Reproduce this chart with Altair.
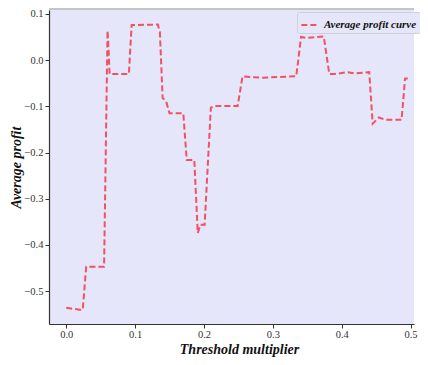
import altair as alt
import pandas as pd

# Data
threshold = [0.000, 0.019, 0.024, 0.029, 0.055, 0.060, 0.061, 0.063, 0.091, 0.095,
             0.133, 0.136, 0.140, 0.145, 0.150, 0.170, 0.175, 0.186, 0.191, 0.195,
             0.201, 0.210, 0.216, 0.249, 0.256, 0.282, 0.334, 0.341, 0.348, 0.374,
             0.382, 0.390, 0.409, 0.419, 0.440, 0.445, 0.454, 0.463, 0.487, 0.492,
             0.496]
avg_profit = [-0.536, -0.540, -0.540, -0.447, -0.447, 0.064, 0.040, -0.030, -0.030, 0.076,
              0.077, 0.061, -0.082, -0.089, -0.115, -0.115, -0.216, -0.216, -0.374, -0.356,
              -0.356, -0.103, -0.099, -0.099, -0.035, -0.038, -0.035, 0.050, 0.048, 0.051,
              -0.030, -0.030, -0.026, -0.029, -0.026, -0.1375, -0.124, -0.129, -0.129, -0.040,
              -0.040]
series_name = "Average profit curve"
x_ticks = [0.0, 0.1, 0.2, 0.3, 0.4, 0.5]
y_ticks = [-0.5, -0.4, -0.3, -0.2, -0.1, 0.0, 0.1]

df = pd.DataFrame({"x": threshold, "y": avg_profit, "series": series_name})

W, H = 365, 314
LINE = "#F05262"
FONT = "Liberation Serif"

line = alt.Chart(df).mark_line(
    strokeWidth=2, strokeDash=[6, 3], clip=True, interpolate="linear"
).encode(
    x=alt.X("x:Q", scale=alt.Scale(domain=[-0.025, 0.505], nice=False, zero=False),
            axis=alt.Axis(values=x_ticks, format=".1f", title="Threshold multiplier",
                          titleX=190, titleY=29, titleBaseline="alphabetic",
                          labelPadding=1)),
    y=alt.Y("y:Q", scale=alt.Scale(domain=[-0.571, 0.1085], nice=False, zero=False),
            axis=alt.Axis(values=y_ticks, format=".1f", title="Average profit",
                          titleX=-26, labelPadding=2)),
    color=alt.Color("series:N", scale=alt.Scale(range=[LINE]),
                    legend=alt.Legend(orient="none", legendX=248, legendY=2, title=None,
                                      symbolType="stroke", symbolDash=[6, 3],
                                      symbolStrokeWidth=2, symbolSize=300,
                                      labelFont=FONT, labelFontStyle="italic",
                                      labelFontWeight="bold", labelFontSize=11,
                                      labelColor="#111111",
                                      fillColor="#E6E6FA", strokeColor="#cfcfd8",
                                      padding=3, cornerRadius=2)),
)

top = alt.Chart(df).mark_rule(color="#c4c4c8", strokeWidth=2).encode(
    x=alt.value(0), x2=alt.value(W), y=alt.value(-1)
)

chart = alt.layer(line, top).properties(
    width=W, height=H,
    autosize=alt.AutoSizeParams(type="none"),
    padding={"left": 41, "top": 2, "right": 6, "bottom": 33},
    background="white",
).configure_view(
    fill="#E6E6FA", stroke=None
).configure_axis(
    grid=False,
    domainColor="#333333", domainWidth=1.2,
    tickColor="#333333", tickSize=4,
    labelFont=FONT, labelFontSize=10.5, labelColor="#333333",
    titleFont=FONT, titleFontSize=14, titleFontStyle="italic", titleFontWeight="bold",
    titleColor="#111111",
)

chart.save("out.html", embed_options={"renderer": "svg", "actions": False})
